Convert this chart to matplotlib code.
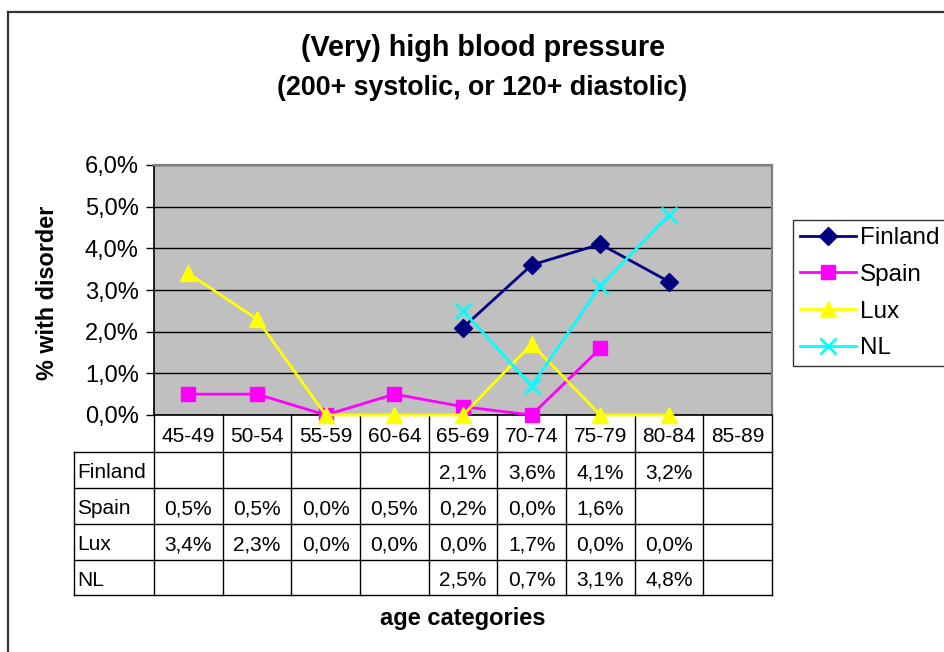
import numpy as np
import matplotlib
matplotlib.use("Agg")
import matplotlib.pyplot as plt
from matplotlib.lines import Line2D
from matplotlib.ticker import FuncFormatter, MultipleLocator

plt.rcParams['font.family'] = ['Liberation Sans', 'DejaVu Sans']

categories = ["45-49", "50-54", "55-59", "60-64", "65-69", "70-74", "75-79", "80-84", "85-89"]
finland = [None, None, None, None, 2.1, 3.6, 4.1, 3.2, None]
spain = [0.5, 0.5, 0.0, 0.5, 0.2, 0.0, 1.6, None, None]
lux = [3.4, 2.3, 0.0, 0.0, 0.0, 1.7, 0.0, 0.0, None]
nl = [None, None, None, None, 2.5, 0.7, 3.1, 4.8, None]
series_names = ["Finland", "Spain", "Lux", "NL"]
series_values = [finland, spain, lux, nl]
colors = ["#000080", "#FF00FF", "#FFFF00", "#00FFFF"]
markers = ["D", "s", "^", "x"]
msizes = [9, 10, 12, 12]

W, H = 944, 652
fig = plt.figure(figsize=(W / 100, H / 100), dpi=100)

def fx(px):
    return px / W

def fy(py):
    return 1 - py / H

# outer chart border
fig.add_artist(Line2D([fx(8), fx(8)], [fy(12), fy(660)], color="#333333", lw=1.6, transform=fig.transFigure))
fig.add_artist(Line2D([fx(8), fx(950)], [fy(12), fy(12)], color="#333333", lw=1.6, transform=fig.transFigure))

L, R, T, B = 154, 772, 165, 415
ax = fig.add_axes([fx(L), fy(B), (R - L) / W, (B - T) / H])
ax.set_facecolor("#C0C0C0")

n = len(categories)
x = np.arange(n)
for name, vals, c, m, ms in zip(series_names, series_values, colors, markers, msizes):
    v = np.array([np.nan if a is None else a / 100 for a in vals], dtype=float)
    mew = 2.0 if m == "x" else 1.0
    ax.plot(x, v, color=c, lw=2.0, marker=m, ms=ms, mec=c, mfc=c, mew=mew,
            label=name, clip_on=False, zorder=3)

ax.set_xlim(-0.5, n - 0.5)
ax.set_ylim(0, 0.06)
ax.yaxis.set_major_locator(MultipleLocator(0.01))
ax.yaxis.set_major_formatter(FuncFormatter(lambda v, p: f"{v*100:.1f}%".replace(".", ",")))
ax.grid(axis="y", color="black", lw=1.0, zorder=1)
ax.set_axisbelow(True)
ax.set_xticks([])
ax.tick_params(axis="y", direction="out", length=6, width=1, labelsize=17, pad=5, colors="black")
for s in ["top", "right"]:
    ax.spines[s].set_color("#808080")
    ax.spines[s].set_linewidth(1.6)
for s in ["left", "bottom"]:
    ax.spines[s].set_color("black")
    ax.spines[s].set_linewidth(1.2)

# data table below axis
trans = ax.get_xaxis_transform()
def ay(py):
    return (B - py) / (B - T)

row_edges = [415, 452, 488, 524, 560, 595]
label_left_px = 74
label_left = -0.5 - (L - label_left_px) * n / (R - L)
lc = "black"
lw = 1.0
for i in range(n + 1):
    xb = i - 0.5
    ax.add_line(Line2D([xb, xb], [ay(row_edges[0]), ay(row_edges[-1])], color=lc, lw=lw,
                       transform=trans, clip_on=False))
ax.add_line(Line2D([label_left, label_left], [ay(row_edges[1]), ay(row_edges[-1])], color=lc, lw=lw,
                   transform=trans, clip_on=False))
for yb in row_edges[1:]:
    ax.add_line(Line2D([label_left, n - 0.5], [ay(yb), ay(yb)], color=lc, lw=lw,
                       transform=trans, clip_on=False))

tfs = 15
dy = 3  # pixels downward shift for visual centring
hy = ay((row_edges[0] + row_edges[1]) / 2 + dy)
for i, cat in enumerate(categories):
    ax.text(i, hy, cat, transform=trans, ha="center", va="center", fontsize=tfs, clip_on=False)
for r, (name, vals) in enumerate(zip(series_names, series_values)):
    ry = ay((row_edges[r + 1] + row_edges[r + 2]) / 2 + dy)
    ax.text(label_left + 0.05, ry, name, transform=trans, ha="left", va="center", fontsize=tfs)
    for i, v in enumerate(vals):
        if v is None:
            continue
        ax.text(i, ry, f"{v:.1f}%".replace(".", ","), transform=trans,
                ha="center", va="center", fontsize=tfs)

# titles and labels
fig.text(fx(483), fy(48), "(Very) high blood pressure", ha="center", va="center",
         fontsize=20.7, fontweight="bold")
fig.text(fx(482), fy(88), "(200+ systolic, or 120+ diastolic)", ha="center", va="center",
         fontsize=19.3, fontweight="bold")
fig.text(fx(463), fy(618), "age categories", ha="center", va="center", fontsize=17, fontweight="bold")
fig.text(fx(48), fy(293), "% with disorder", ha="center", va="center", rotation=90,
         fontsize=16.8, fontweight="bold")

leg = fig.legend(loc="upper left", bbox_to_anchor=(fx(793), fy(220)), borderaxespad=0,
                 fontsize=17.5, frameon=True, fancybox=False, edgecolor="black",
                 handlelength=2.3, handletextpad=0.15, labelspacing=0.6,
                 borderpad=0.3)
leg.get_frame().set_linewidth(1.0)

fig.savefig("out.png", dpi=100)
